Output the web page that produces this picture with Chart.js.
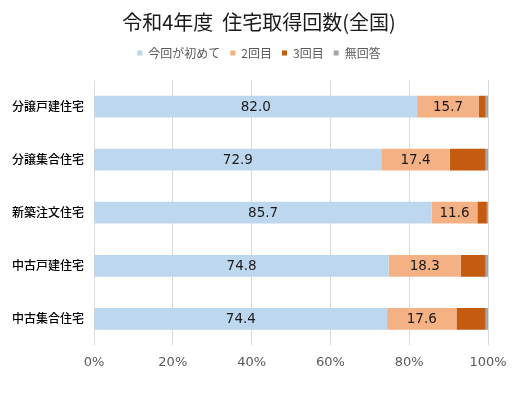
<!DOCTYPE html>
<html>
<head>
<meta charset="utf-8">
<script src="https://cdn.jsdelivr.net/npm/chart.js@4"></script>
<style>
html,body{margin:0;padding:0;background:#fff;}
#wrap{width:530px;height:393px;}
</style>
</head>
<body>
<div id="wrap"><canvas id="c" width="530" height="393"></canvas></div>
<script>
const categories = ['分譲戸建住宅','分譲集合住宅','新築注文住宅','中古戸建住宅','中古集合住宅'];
const seriesNames = ['今回が初めて','2回目','3回目','無回答'];
const firstTime = [82.0, 72.9, 85.7, 74.8, 74.4];
const secondTime = [15.7, 17.4, 11.6, 18.3, 17.6];
const thirdTime = [1.7, 9.1, 2.4, 6.3, 7.4];
const noAnswer = [0.6, 0.6, 0.3, 0.6, 0.6];
const xTicks = [0, 20, 40, 60, 80, 100];

const colors = ['#BDD7EE','#F4B183','#C55A11','#A5A5A5'];
const FONT = '"Noto Sans CJK JP", "Noto Sans", sans-serif';
const NUMFONT = '"DejaVu Sans", sans-serif';

const labelPlugin = {
  id: 'segLabels',
  afterDatasetsDraw(chart) {
    const ctx = chart.ctx;
    ctx.save();
    ctx.font = '13.5px ' + NUMFONT;
    ctx.fillStyle = '#1a1a1a';
    ctx.textAlign = 'center';
    ctx.textBaseline = 'middle';
    [0,1].forEach(di => {
      const meta = chart.getDatasetMeta(di);
      meta.data.forEach((bar, i) => {
        const v = chart.data.datasets[di].data[i];
        const cx = (bar.x + bar.base) / 2;
        ctx.fillText(v.toFixed(1), cx, bar.y + 0.5);
      });
    });
    ctx.restore();
  }
};

const legendSpacer = {
  id: 'legendSpacer',
  beforeInit(chart) {
    const orig = chart.legend.fit;
    chart.legend.fit = function () {
      orig.call(this);
      this.height += 11;
    };
  },
  afterLayout(chart) {
    const shift = 14;
    [chart.titleBlock, chart.legend].forEach(b => {
      if (b) { b.left += shift; b.right += shift; }
    });
  }
};

new Chart(document.getElementById('c'), {
  type: 'bar',
  data: {
    labels: categories,
    datasets: [firstTime, secondTime, thirdTime, noAnswer].map((d, i) => ({
      label: seriesNames[i],
      data: d,
      backgroundColor: colors[i],
      borderWidth: 0,
      categoryPercentage: 1,
      barPercentage: 0.41
    }))
  },
  options: {
    indexAxis: 'y',
    responsive: false,
    animation: false,
    layout: { padding: { left: 2, right: 42, top: 0, bottom: 14 } },
    plugins: {
      title: {
        display: true,
        text: '令和4年度  住宅取得回数(全国)',
        font: { family: FONT, size: 20, weight: 'normal' },
        color: '#1a1a1a',
        padding: { top: 10, bottom: 3 }
      },
      legend: {
        display: true,
        position: 'top',
        labels: {
          font: { family: FONT, size: 12 },
          color: '#595959',
          boxWidth: 5,
          boxHeight: 5,
          padding: 10
        }
      },
      tooltip: { enabled: false }
    },
    scales: {
      x: {
        stacked: true,
        min: 0,
        max: 100,
        afterBuildTicks(axis) { axis.ticks = xTicks.map(v => ({ value: v })); },
        ticks: {
          callback: v => v + '%',
          color: '#595959',
          font: { family: NUMFONT, size: 13 },
          padding: 9
        },
        grid: { color: '#d9d9d9', drawTicks: false },
        border: { display: false }
      },
      y: {
        stacked: true,
        ticks: {
          color: '#000',
          font: { family: FONT, size: 12, weight: '500' },
          padding: 10
        },
        grid: { display: false, drawTicks: false },
        border: { display: false }
      }
    }
  },
  plugins: [labelPlugin, legendSpacer]
});
</script>
</body>
</html>
